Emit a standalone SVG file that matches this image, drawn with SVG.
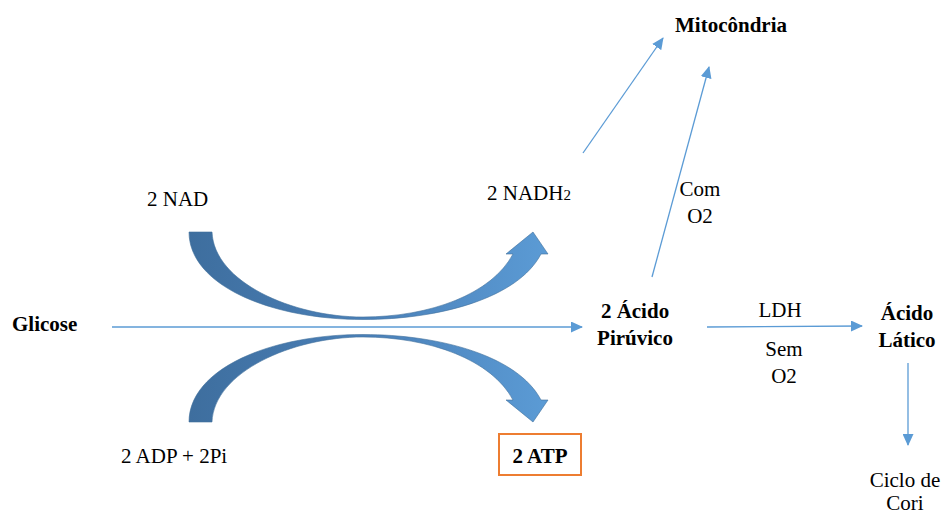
<svg xmlns="http://www.w3.org/2000/svg" width="943" height="516" viewBox="0 0 943 516" font-family="Liberation Serif, serif" font-size="21">
<defs>
<marker id="ah" markerUnits="userSpaceOnUse" markerWidth="12" markerHeight="11" refX="11" refY="5.5" orient="auto">
<path d="M0,0 L12,5.5 L0,11 Z" fill="#5B9BD5"/>
</marker>
<linearGradient id="g" x1="189" y1="0" x2="548" y2="0" gradientUnits="userSpaceOnUse">
<stop offset="0" stop-color="#3E6E9E"/>
<stop offset="0.5" stop-color="#4A80B8"/>
<stop offset="1" stop-color="#5B9BD5"/>
</linearGradient>
<path id="carrow" d="M189,232 L212,232 C214,282 292,317 363,317 C430,317 492,294 513,254 L506,254 L533,232 L548,254 L541,254 C518,298 440,319.5 363,319.5 C270,319.5 189,285 189,232 Z" fill="url(#g)" stroke="#41719C" stroke-width="0.6"/>
</defs>
<rect width="943" height="516" fill="#fff"/>
<g id="connectors" stroke="#5B9BD5" stroke-width="1.3" fill="none" marker-end="url(#ah)">
<line x1="112" y1="327" x2="582" y2="327"/>
<line x1="583" y1="153" x2="663" y2="38"/>
<line x1="652" y1="277" x2="709" y2="67"/>
<line x1="707" y1="327" x2="862" y2="326"/>
<line x1="908" y1="363" x2="908" y2="445"/>
</g>
<g id="arrow-nad"><use href="#carrow"/></g>
<g id="arrow-adp"><use href="#carrow" transform="matrix(1,0,0,-1,0,654)"/></g>
<text id="mitocondria" x="675" y="32" font-family="Liberation Serif" font-weight="bold">Mitocôndria</text>
<text id="nad" x="147" y="206" font-family="Liberation Serif">2 NAD</text>
<text id="nadh2" x="487" y="200" font-family="Liberation Serif">2 NADH<tspan font-size="15">2</tspan></text>
<text id="com" x="700" y="196" text-anchor="middle" font-family="Liberation Serif">Com</text>
<text id="com-o2" x="700" y="223" text-anchor="middle" font-family="Liberation Serif">O2</text>
<text id="glicose" x="12" y="331" font-family="Liberation Serif" font-weight="bold">Glicose</text>
<text id="acido1" x="635" y="318" text-anchor="middle" font-family="Liberation Serif" font-weight="bold">2 Ácido</text>
<text id="piruvico" x="635" y="345" text-anchor="middle" font-family="Liberation Serif" font-weight="bold">Pirúvico</text>
<text id="ldh" x="780" y="317" text-anchor="middle" font-family="Liberation Serif">LDH</text>
<text id="sem" x="784" y="356" text-anchor="middle" font-family="Liberation Serif">Sem</text>
<text id="sem-o2" x="784" y="383" text-anchor="middle" font-family="Liberation Serif">O2</text>
<text id="acido2" x="907" y="320" text-anchor="middle" font-family="Liberation Serif" font-weight="bold">Ácido</text>
<text id="latico" x="907" y="347" text-anchor="middle" font-family="Liberation Serif" font-weight="bold">Lático</text>
<text id="ciclo" x="905" y="487" text-anchor="middle" font-family="Liberation Serif">Ciclo de</text>
<text id="cori" x="905" y="510" text-anchor="middle" font-family="Liberation Serif">Cori</text>
<text id="adp" x="121" y="463" font-family="Liberation Serif">2 ADP + 2Pi</text>
<g id="atp"><rect x="499" y="434" width="82" height="41" fill="#fff" stroke="#ED7D31" stroke-width="2"/><text x="540" y="463" text-anchor="middle" font-family="Liberation Serif" font-weight="bold">2 ATP</text></g>
</svg>
